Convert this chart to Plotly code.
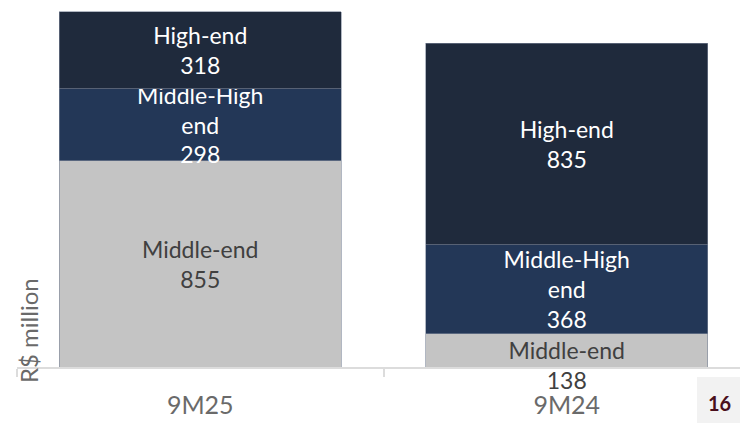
import plotly.graph_objects as go

periods = ["9M25", "9M24"]
segments = ["Middle-end", "Middle-High<br>end", "High-end"]
middle_end = [855, 138]
middle_high = [298, 368]
high_end = [318, 835]
colors = ["#c4c4c4", "#233757", "#1f2a3c"]
text_colors = ["#404040", "#ffffff", "#ffffff"]

FONT = "Lato"
fig = go.Figure()
for name, vals, col, tcol in zip(segments, [middle_end, middle_high, high_end], colors, text_colors):
    labels = []
    for v in vals:
        lab = f"{name}<br>{v}"
        if v < 200:  # small segment: label sits lower, spilling under the bar
            lab = "\u00a0<br>" + lab
        labels.append(lab)
    fig.add_trace(go.Bar(
        x=periods, y=vals, name=name,
        marker=dict(color=col, line=dict(color="#7d8799", width=0.6)),
        text=labels,
        textposition="inside", textangle=0, insidetextanchor="middle",
        textfont=dict(family=FONT, size=23, color=tcol),
        cliponaxis=False, constraintext="none",
    ))

fig.update_layout(
    barmode="stack", bargap=0.23,
    width=740, height=423,
    margin=dict(l=17, r=0, t=0, b=56),
    paper_bgcolor="white", plot_bgcolor="white",
    showlegend=False,
    uniformtext=dict(minsize=23, mode="show"),
    font=dict(family=FONT),
    xaxis=dict(
        range=[-0.5, 1.4727], showline=True, linecolor="#dcdcdc", linewidth=2,
        ticks="outside", tickson="boundaries", ticklen=8, tickcolor="#dcdcdc", tickwidth=2,
        tickfont=dict(family=FONT, size=25, color="#6a6a6a"), ticklabelstandoff=15,
        showgrid=False, zeroline=False,
    ),
    yaxis=dict(range=[0, 1520], visible=False, showgrid=False, zeroline=False),
    annotations=[
        dict(text="R$ million", xref="paper", yref="paper", x=(28-17)/723, y=(367-331)/367,
             xanchor="center", yanchor="middle", textangle=-90, showarrow=False,
             font=dict(family=FONT, size=24, color="#6a6a6a")),
        dict(text="<b>16</b>", xref="paper", yref="paper", x=(719-17)/723, y=-(403-367)/367,
             xanchor="center", yanchor="middle", showarrow=False,
             font=dict(family=FONT, size=20, color="#4a0f1c")),
    ],
    shapes=[
        dict(type="rect", xref="paper", yref="paper", x0=(697-17)/723, x1=1.0,
             y0=-(423-367)/367, y1=-(377-367)/367, fillcolor="#f2f2f2", line=dict(width=0), layer="below"),
    ],
)

fig.write_html("out.html")
